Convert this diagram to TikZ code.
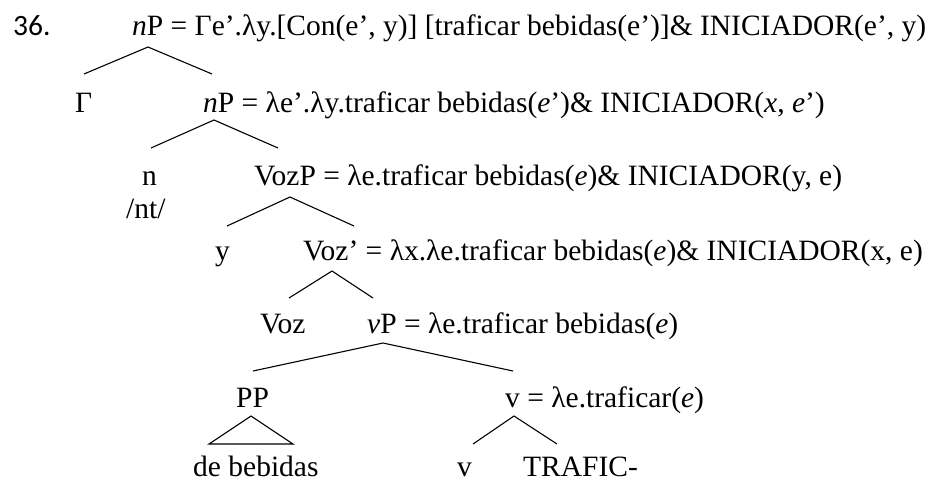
\documentclass[tikz,border=0pt]{standalone}
\usepackage{fontspec}
\setmainfont{Liberation Serif}
\newfontfamily\numfont{Carlito}
\begin{document}
\begin{tikzpicture}[x=1pt,y=-1pt,
  lab/.style={anchor=base west,inner sep=0pt,font=\fontsize{29.5}{35}\selectfont},
  br/.style={line width=1.1pt}]
\useasboundingbox (0,0) rectangle (936,480);
% texts
\node[lab] (num) at (13,35) {\numfont 36.};
\node[lab] (np1) at (132,35) {\textit{n}P = Γe’.λy.[Con(e’, y)] [traficar bebidas(e’)]\& INICIADOR(e’, y)};
\node[lab] (gam) at (75,112) {Γ};
\node[lab] (np2) at (203,112) {\textit{n}P = λe’.λy.traficar bebidas(\textit{e}’)\& INICIADOR(\textit{x}, \textit{e}’)};
\node[lab] (n) at (142,185) {n};
\node[lab] (nt) at (126,218) {/nt/};
\node[lab] (vozp) at (254,185) {VozP = λe.traficar bebidas(\textit{e})\& INICIADOR(y, e)};
\node[lab] (y) at (215,260) {y};
\node[lab] (vozb) at (303,260) {Voz’ = λx.λe.traficar bebidas(\textit{e})\& INICIADOR(x, e)};
\node[lab] (voz) at (260,333) {Voz};
\node[lab] (vp) at (367,333) {\textit{v}P = λe.traficar bebidas(\textit{e})};
\node[lab] (pp) at (236,407) {PP};
\node[lab] (vv) at (505,407) {v = λe.traficar(\textit{e})};
\node[lab] (deb) at (193,476) {de bebidas};
\node[lab] (v) at (457,476) {v};
\node[lab] (traf) at (523,476) {TRAFIC-};
% branch points
\coordinate (t1) at (148,47); \coordinate (l1) at (84,74); \coordinate (r1) at (212,74);
\coordinate (t2) at (214,120); \coordinate (l2) at (151,148); \coordinate (r2) at (278,148);
\coordinate (t3) at (290,197); \coordinate (l3) at (227,226); \coordinate (r3) at (354,226);
\coordinate (t4) at (332,271); \coordinate (l4) at (289,298); \coordinate (r4) at (373,298);
\coordinate (t5) at (383,343); \coordinate (l5) at (253,371); \coordinate (r5) at (513,371);
\coordinate (t6) at (251,416); \coordinate (l6) at (209,444); \coordinate (r6) at (293,444);
\coordinate (t7) at (514,416); \coordinate (l7) at (473,444); \coordinate (r7) at (557,444);
\draw[br] (l1) -- (t1) -- (r1);
\draw[br] (l2) -- (t2) -- (r2);
\draw[br] (l3) -- (t3) -- (r3);
\draw[br] (l4) -- (t4) -- (r4);
\draw[br] (l5) -- (t5) -- (r5);
\draw[br] (l6) -- (t6) -- (r6) -- cycle;
\draw[br] (l7) -- (t7) -- (r7);
\end{tikzpicture}
\end{document}
